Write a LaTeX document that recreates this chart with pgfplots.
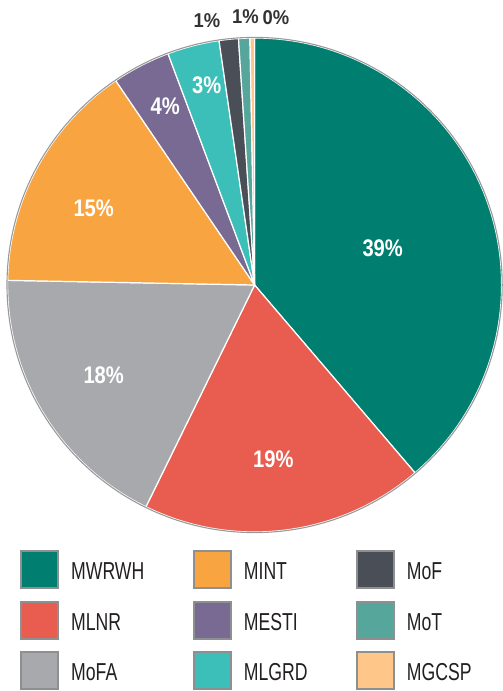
\documentclass[border=0pt]{standalone}
\usepackage{fontspec}
\setmainfont{Liberation Sans}
\newfontfamily\legfont{Liberation Sans}[FakeStretch=0.72]
\newfontfamily\labfont{Liberation Sans}[FakeStretch=0.84]
\newfontfamily\outfont{Liberation Sans}[FakeStretch=0.92]
\usepackage{pgfplots}
\usepackage{pgfplotstable}
\pgfplotsset{compat=1.18}

\definecolor{cMWRWH}{HTML}{007F70}
\definecolor{cMLNR}{HTML}{E85D50}
\definecolor{cMoFA}{HTML}{A7A9AC}
\definecolor{cMINT}{HTML}{F8A541}
\definecolor{cMESTI}{HTML}{786A92}
\definecolor{cMLGRD}{HTML}{3CBFB8}
\definecolor{cMoF}{HTML}{4A4E56}
\definecolor{cMoT}{HTML}{56A69C}
\definecolor{cMGCSP}{HTML}{FEC688}
\definecolor{legborder}{HTML}{8E8F91}
\definecolor{legtext}{HTML}{231F20}
\definecolor{outtext}{HTML}{333333}
\definecolor{rim}{HTML}{9A9A9A}

% share (percent), printed label, label centre in pixels (x, y from top), label colour
\pgfplotstableread{
name  value label lx    ly    tc
MWRWH 38.75 39    382.7 248.7 white
MLNR  18.50 19    273.3 459.0 white
MoFA  18.05 18    103.7 375.5 white
MINT  15.20 15    93.7  208.5 white
MESTI 3.80  4     165.3 106.7 white
MLGRD 3.40  3     206.7 85.5  white
MoF   1.26  1     207.0 20.5  outtext
MoT   0.74  1     245.5 16.5  outtext
MGCSP 0.30  0     276.0 18.0  outtext
}\piedata

\begin{document}
\begin{tikzpicture}
\begin{axis}[
  name=ax,
  x=1pt, y=1pt,
  xmin=0, xmax=503, ymin=0, ymax=691,
  hide axis, clip=false,
]
\pgfplotstablegetrowsof{\piedata}
\pgfmathtruncatemacro\nrows{\pgfplotsretval-1}
\def\cum{0}
\pgfplotsforeachungrouped \i in {0,...,\nrows}{%
  \pgfplotstablegetelem{\i}{value}\of\piedata \let\v\pgfplotsretval
  \pgfplotstablegetelem{\i}{name}\of\piedata \let\nm\pgfplotsretval
  \pgfmathsetmacro\sa{90-3.6*\cum}%
  \pgfmathsetmacro\cumn{\cum+\v}%
  \pgfmathsetmacro\ea{90-3.6*\cumn}%
  \edef\temp{\noexpand\filldraw[fill=c\nm, draw=white, line width=1.2pt, line join=round] (axis cs:254.6,406) -- ++(\sa:247pt) arc[start angle=\sa, end angle=\ea, radius=247pt] -- cycle;}%
  \temp
  \let\cum\cumn
}
\edef\temp{\noexpand\draw[rim, line width=1.1pt] (axis cs:254.6,406) circle[radius=247.6pt];}
\temp
\pgfplotsforeachungrouped \i in {0,...,\nrows}{%
  \pgfplotstablegetelem{\i}{label}\of\piedata \let\lb\pgfplotsretval
  \pgfplotstablegetelem{\i}{lx}\of\piedata \let\lx\pgfplotsretval
  \pgfplotstablegetelem{\i}{ly}\of\piedata \let\ly\pgfplotsretval
  \pgfplotstablegetelem{\i}{tc}\of\piedata \let\tc\pgfplotsretval
  \pgfmathsetmacro\yy{691-\ly}%
  \ifnum\i<6
    \edef\temp{\noexpand\node[text=\tc, inner sep=0pt, font=\noexpand\labfont\noexpand\bfseries\noexpand\fontsize{24}{24}\noexpand\selectfont] at (axis cs:\lx,\yy) {\lb\noexpand\%};}%
  \else
    \edef\temp{\noexpand\node[text=\tc, inner sep=0pt, font=\noexpand\outfont\noexpand\bfseries\noexpand\fontsize{20}{20}\noexpand\selectfont] at (axis cs:\lx,\yy) {\lb\noexpand\%};}%
  \fi
  \temp
}
\end{axis}
% legend
\foreach \n/\sx/\ty in {MWRWH/20/550, MINT/192.7/550, MoF/355.7/550,
                        MLNR/20/601, MESTI/192.7/601, MoT/355.7/601,
                        MoFA/20/651, MLGRD/192.7/651, MGCSP/355.7/651}{
  \draw[fill=c\n, draw=legborder, line width=2pt] ({\sx pt+1pt},{691pt-\ty pt-1pt}) rectangle ++(37pt,-37pt);
  \node[anchor=west, inner sep=0pt, text=legtext, font=\legfont\fontsize{24.5}{24.5}\selectfont] at ({\sx pt+51pt},{691pt-\ty pt-21pt}) {\n};
}
\pgfresetboundingbox
\path[use as bounding box] (ax.south west) rectangle (ax.north east);
\end{tikzpicture}
\end{document}
